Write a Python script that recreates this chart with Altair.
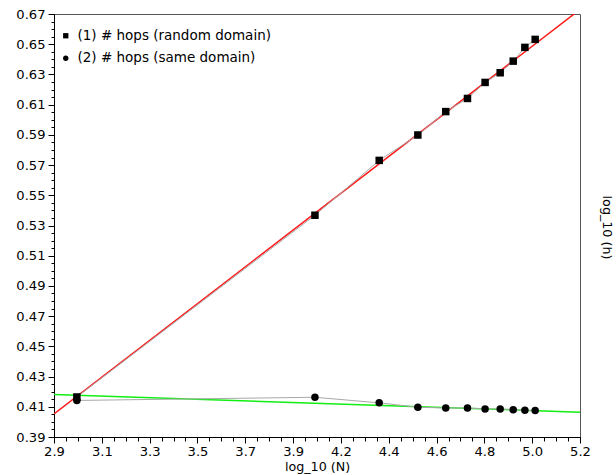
import altair as alt
import pandas as pd

# data
log_n = [3.0, 4.041, 4.322, 4.491, 4.613, 4.708, 4.785, 4.851, 4.908, 4.959, 5.004]
hops_random = [0.4165, 0.5368, 0.5731, 0.5899, 0.6054, 0.6141, 0.6247, 0.6311, 0.6388, 0.6479, 0.6532]
hops_same = [0.4142, 0.4163, 0.4126, 0.4097, 0.4092, 0.4092, 0.4086, 0.4086, 0.4081, 0.4077, 0.4075]
fit_x = [2.9, 5.2]
fit_random = [0.4053, 0.6730]
fit_same = [0.4181, 0.4064]
series_names = ["(1) # hops (random domain)", "(2) # hops (same domain)"]
fit_names = ["fit (1)", "fit (2)"]

x_dom = [2.9, 5.2]
y_dom = [0.39, 0.67]
x_major = [2.9 + k * 2.3 / 11 for k in range(12)]
x_minor = [2.9 + k * 2.3 / 44 for k in range(45)]
y_major = [round(0.39 + k * 0.02, 3) for k in range(15)]
y_minor = [round(0.39 + k * 0.005, 4) for k in range(57)]

pts = pd.DataFrame({
    "x": log_n * 2,
    "y": hops_random + hops_same,
    "s": [series_names[0]] * len(log_n) + [series_names[1]] * len(log_n),
})
fit = pd.DataFrame({
    "x": fit_x * 2,
    "y": fit_random + fit_same,
    "f": [fit_names[0]] * 2 + [fit_names[1]] * 2,
})

FONT = "DejaVu Sans"
FS = 13.1
W, H = 526, 423

xs = alt.Scale(domain=x_dom, nice=False, zero=False)
ys = alt.Scale(domain=y_dom, nice=False, zero=False)

x_major_axis = alt.Axis(values=x_major, format=".1f", tickSize=6, labelFontSize=FS,
                        labelFont=FONT, labelColor="black", tickColor="black",
                        domainColor="black", grid=False, labelFlush=False,
                        labelOverlap=False, labelPadding=2, title="log_10 (N)",
                        titleFont=FONT, titleFontSize=12.7, titleFontWeight="normal",
                        titleColor="black", titlePadding=2, orient="bottom")
y_major_axis = alt.Axis(values=y_major, format=".2f", tickSize=6, labelFontSize=FS,
                        labelFont=FONT, labelColor="black", tickColor="black",
                        domainColor="black", grid=False, labelFlush=False,
                        labelOverlap=False, labelPadding=3, title="log_10 (h)",
                        titleFont=FONT, titleFontSize=12.7, titleFontWeight="normal",
                        titleColor="black", titleAngle=90, titleX=552, titleY=213,
                        titleAlign="center", titleBaseline="middle", orient="left")
x_minor_axis = alt.Axis(values=x_minor, labels=False, tickSize=4, tickColor="black",
                        domain=False, grid=False, title=None, orient="bottom")
y_minor_axis = alt.Axis(values=y_minor, labels=False, tickSize=3, tickColor="black",
                        domain=False, grid=False, title=None, orient="left")

fit_lines = alt.Chart(fit).mark_line(clip=True, strokeWidth=1.5).encode(
    x=alt.X("x:Q", scale=xs, axis=x_major_axis),
    y=alt.Y("y:Q", scale=ys, axis=y_major_axis),
    color=alt.Color("f:N", scale=alt.Scale(domain=fit_names, range=["#ff1a1a", "#11ee11"]),
                    legend=None),
)

grey_lines = alt.Chart(pts).mark_line(color="#a8a8a8", strokeWidth=1).encode(
    x=alt.X("x:Q", scale=xs, axis=x_minor_axis),
    y=alt.Y("y:Q", scale=ys, axis=y_minor_axis),
    detail="s:N",
)

points = alt.Chart(pts).mark_point(filled=True, color="black", opacity=1, size=56).encode(
    x=alt.X("x:Q", scale=xs, axis=None),
    y=alt.Y("y:Q", scale=ys, axis=None),
    shape=alt.Shape("s:N", scale=alt.Scale(domain=series_names, range=["square", "circle"]),
                    legend=alt.Legend(title=None, orient="none", legendX=5, legendY=15,
                                      symbolSize=28, symbolFillColor="black",
                                      symbolStrokeColor="black", symbolStrokeWidth=0,
                                      labelFont=FONT, labelFontSize=13.5, labelColor="black",
                                      labelOffset=5, labelLimit=0, rowPadding=7.5, padding=0)),
)

chart = alt.layer(fit_lines, grey_lines, points).resolve_axis(
    x="independent", y="independent"
).properties(
    width=W, height=H,
    autosize=alt.AutoSizeParams(type="none"),
    padding={"left": 54, "top": 14, "right": 616 - 54 - W, "bottom": 475 - 14 - H},
    background="white",
).configure_view(stroke="#555555", strokeWidth=1)

chart.save("out.html", embed_options={"renderer": "svg", "actions": False})
